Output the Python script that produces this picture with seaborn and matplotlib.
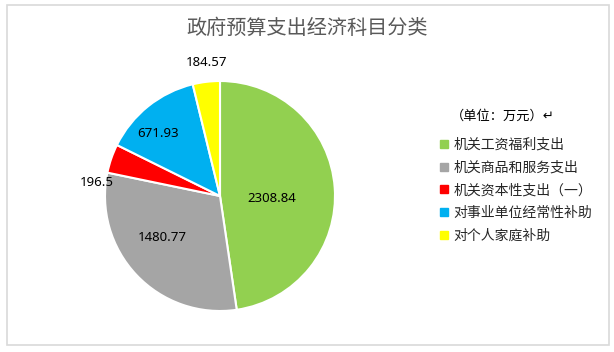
import numpy as np
import matplotlib
matplotlib.use('Agg')
import matplotlib.pyplot as plt
from matplotlib.lines import Line2D
from matplotlib.patches import Rectangle
import seaborn as sns

# chart data
categories = ["机关工资福利支出", "机关商品和服务支出", "机关资本性支出（一）",
              "对事业单位经常性补助", "对个人家庭补助"]
values = [2308.84, 1480.77, 196.5, 671.93, 184.57]
value_labels = ["2308.84", "1480.77", "196.5", "671.93", "184.57"]
colors = sns.color_palette(["#92D050", "#A5A5A5", "#FF0000", "#00B0F0", "#FFFF00"])

sns.set_theme(style="white")
plt.rcParams['font.family'] = ['Noto Sans CJK SC', 'DejaVu Sans']

W, H = 614, 352
fig = plt.figure(figsize=(W / 100, H / 100), dpi=100)
fig.patch.set_facecolor("white")

# light gray frame around the chart area
fig.add_artist(Rectangle((7 / W, 1 - 345 / H), (609 - 7) / W, (345 - 5) / H,
                         transform=fig.transFigure, fill=False,
                         edgecolor="#D9D9D9", linewidth=1.2))

# pie axes: center (220, 196), radius ~115 px
cx, cy, r = 220, 196, 115
ax = fig.add_axes([(cx - r) / W, (H - cy - r) / H, 2 * r / W, 2 * r / H])
wedges, _ = ax.pie(values, colors=colors, startangle=90, counterclock=False,
                   radius=1.0, wedgeprops=dict(edgecolor="white", linewidth=1.5))
ax.set_xlim(-1, 1)
ax.set_ylim(-1, 1)
ax.set_aspect("equal")
ax.axis("off")

# data labels: distance from center and small angle shift per slice
dists = [0.45, 0.62, 1.08, 0.77, 1.17]
shifts = [-7, -8, 13, 6, -1]
for w, lab, d, s in zip(wedges, value_labels, dists, shifts):
    mid = np.deg2rad((w.theta1 + w.theta2) / 2 + s)
    ax.text(d * np.cos(mid), d * np.sin(mid), lab, ha="center", va="center",
            fontsize=9.5, color="#000000", family=["Noto Sans", "DejaVu Sans"])

# title
fig.text(307 / W, 1 - 28 / H, "政府预算支出经济科目分类", ha="center", va="center",
         fontsize=14.5, color="#595959")

# unit note and legend
fig.text(451 / W, 1 - 116 / H, "（单位：万元）↵", ha="left", va="center",
         fontsize=9.5, color="#000000")
handles = [Line2D([0], [0], marker="s", linestyle="", markersize=6,
                  markerfacecolor=c, markeredgecolor=c) for c in colors]
fig.legend(handles, categories, loc="upper left",
           bbox_to_anchor=(438 / W, 1 - 138 / H), frameon=False,
           fontsize=10, labelspacing=0.62, handlelength=0.8,
           handletextpad=0.3, borderaxespad=0, borderpad=0)

fig.savefig("out.png", dpi=100)
